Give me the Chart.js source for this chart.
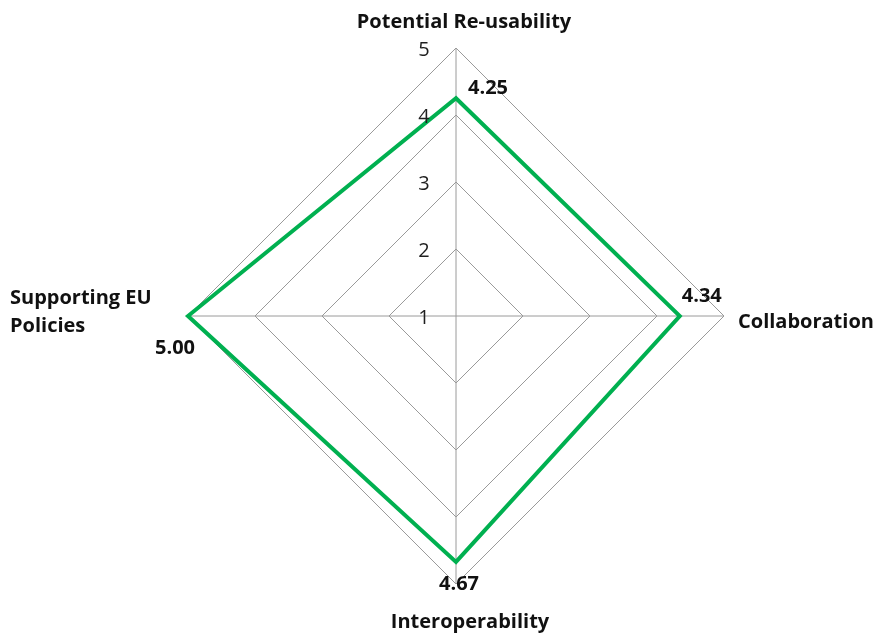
<!DOCTYPE html>
<html>
<head>
<meta charset="utf-8">
<script src="https://cdn.jsdelivr.net/npm/chart.js@4"></script>
<style>
html,body{margin:0;padding:0;background:#fff;}
#wrap{width:876px;height:633px;position:relative;}
</style>
</head>
<body>
<div id="wrap"><canvas id="c" width="876" height="633"></canvas></div>
<script>
const categories = ["Potential Re-usability", "Collaboration", "Interoperability", ["Supporting EU", "Policies"]];
const scores = [4.25, 4.34, 4.67, 5.00];
const scoreLabels = ["4.25", "4.34", "4.67", "5.00"];
const tickValues = [1, 2, 3, 4, 5];

const FONT = "'Open Sans', 'Noto Sans', sans-serif";
const BOLD_SIZE = 20;
const TICK_SIZE = 20;

// per-category label placement relative to the outer vertex (style only)
const catPlace = [
  {dx: 8, dy: -27, align: "center"},
  {dx: 14, dy: 5, align: "left"},
  {dx: 14, dy: 37, align: "center"},
  {dx: -178, dy: -19, align: "left"}
];
// value label placement relative to the data point (style only)
const valPlace = [
  {dx: 12, dy: -11, align: "left"},
  {dx: 2, dy: -21, align: "left"},
  {dx: 3, dy: 21, align: "center"},
  {dx: -13, dy: 31, align: "center"}
];

function capText(ctx, txt, x, cy, size) {
  ctx.fillText(txt, x, cy + 0.36 * size);
}

const textPlugin = {
  id: "texts",
  afterDraw(chart) {
    const ctx = chart.ctx;
    const s = chart.scales.r;
    ctx.save();
    ctx.textBaseline = "alphabetic";
    // tick labels
    ctx.fillStyle = "#1f1f1f";
    ctx.font = TICK_SIZE + "px " + FONT;
    ctx.textAlign = "center";
    tickValues.forEach(v => {
      const d = s.getDistanceFromCenterForValue(v);
      capText(ctx, String(v), s.xCenter - 32, s.yCenter - d + 1, TICK_SIZE);
    });
    // category labels
    ctx.fillStyle = "#111";
    ctx.font = "bold " + BOLD_SIZE + "px " + FONT;
    categories.forEach((lab, i) => {
      const p = s.getPointPosition(i, s.getDistanceFromCenterForValue(5));
      const pl = catPlace[i];
      ctx.textAlign = pl.align;
      const lines = Array.isArray(lab) ? lab : [lab];
      lines.forEach((ln, k) => capText(ctx, ln, p.x + pl.dx, p.y + pl.dy + k * 28, BOLD_SIZE));
    });
    // value labels
    scores.forEach((v, i) => {
      const p = s.getPointPosition(i, s.getDistanceFromCenterForValue(v));
      const pl = valPlace[i];
      ctx.textAlign = pl.align;
      capText(ctx, scoreLabels[i], p.x + pl.dx, p.y + pl.dy, BOLD_SIZE);
    });
    ctx.restore();
  }
};

new Chart(document.getElementById("c"), {
  type: "radar",
  data: {
    labels: categories,
    datasets: [{
      data: scores,
      borderColor: "#00b050",
      borderWidth: 4,
      fill: false,
      pointRadius: 0,
      pointHoverRadius: 0,
      tension: 0
    }]
  },
  options: {
    responsive: false,
    animation: false,
    layout: {padding: {left: 188, right: 152, top: 48, bottom: 49}},
    plugins: {legend: {display: false}, tooltip: {enabled: false}},
    scales: {
      r: {
        min: 1, max: 5,
        ticks: {display: false, stepSize: 1},
        grid: {color: "#9a9a9a", lineWidth: 1},
        angleLines: {color: "#9a9a9a", lineWidth: 1},
        pointLabels: {display: false}
      }
    }
  },
  plugins: [textPlugin]
});
</script>
</body>
</html>
